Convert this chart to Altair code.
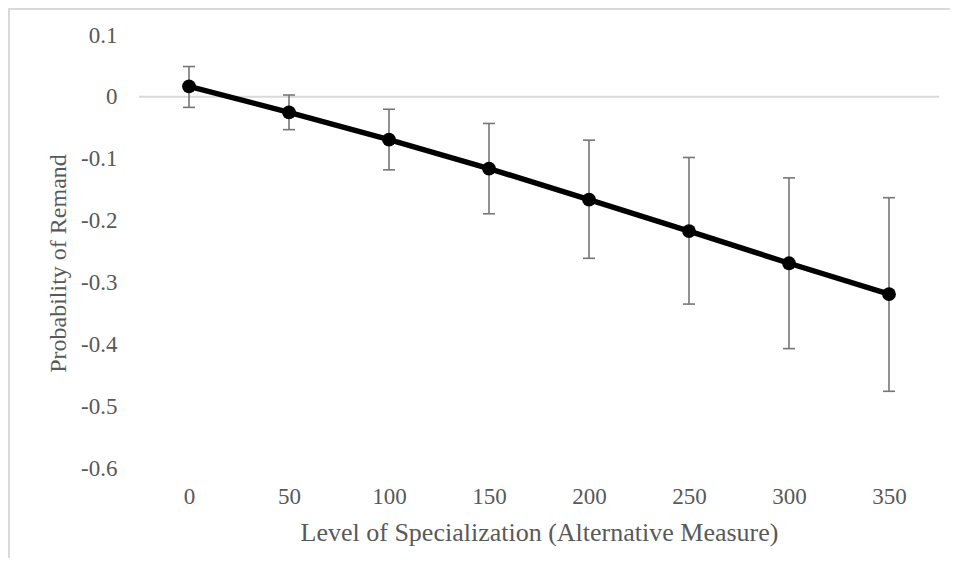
import altair as alt
import pandas as pd

# Data
levels = [0, 50, 100, 150, 200, 250, 300, 350]
prob = [0.017, -0.025, -0.069, -0.116, -0.166, -0.217, -0.269, -0.319]
upper = [0.049, 0.003, -0.020, -0.043, -0.070, -0.098, -0.131, -0.163]
lower = [-0.017, -0.053, -0.118, -0.189, -0.261, -0.335, -0.407, -0.476]
y_ticks = [0.1, 0, -0.1, -0.2, -0.3, -0.4, -0.5, -0.6]

df = pd.DataFrame({"level": levels, "prob": prob, "upper": upper, "lower": lower})

FONT = "Liberation Serif"
TXT = "#595959"
W, H = 800, 433

xscale = alt.Scale(domain=[-25, 375], nice=False, zero=False)
yscale = alt.Scale(domain=[-0.6, 0.1], nice=False, zero=False)

x_axis = alt.Axis(
    values=levels, grid=False, ticks=False, domain=False,
    labelPadding=28, labelBaseline="middle", labelFont=FONT, labelFontSize=23,
    labelColor=TXT, title="Level of Specialization (Alternative Measure)",
    titleFont=FONT, titleFontSize=26, titleFontWeight="normal", titleColor=TXT,
    titleY=64, titleBaseline="middle",
)
y_axis = alt.Axis(
    values=y_ticks, grid=False, ticks=False, domain=False,
    labelPadding=22, labelFont=FONT, labelFontSize=23, labelColor=TXT,
    labelExpr="datum.value == 0 ? '0' : replace(format(datum.value, '.1f'), '\u2212', '-')",
    title="Probability of Remand", titleFont=FONT, titleFontSize=24,
    titleFontWeight="normal", titleColor=TXT, titleX=-81, titleY=228,
    titleAngle=270, titleAlign="center", titleBaseline="middle",
)


def X():
    return alt.X("level:Q", scale=xscale, axis=x_axis)


def Y(field):
    return alt.Y(field, scale=yscale, axis=y_axis)


base = alt.Chart(df)

line = base.mark_line(color="black", strokeWidth=5.5).encode(x=X(), y=Y("prob:Q"))
err = base.mark_rule(color="#767676", strokeWidth=1.6).encode(
    x=X(), y=Y("lower:Q"), y2="upper:Q"
)
cap_top = base.mark_tick(orient="horizontal", size=12, thickness=1.6, color="#767676", opacity=1).encode(
    x=X(), y=Y("upper:Q")
)
cap_bot = base.mark_tick(orient="horizontal", size=12, thickness=1.6, color="#767676", opacity=1).encode(
    x=X(), y=Y("lower:Q")
)
pts = base.mark_circle(size=190, color="black", opacity=1).encode(x=X(), y=Y("prob:Q"))

one = alt.Data(values=[{"z": 0}])
zero_line = alt.Chart(one).mark_rule(color="#d9d9d9", strokeWidth=2).encode(y=Y("z:Q"))
border_left = alt.Chart(one).mark_rule(color="#d9d9d9", strokeWidth=2).encode(
    x=alt.value(-130), y=alt.value(-26), y2=alt.value(H + 90)
)
border_top = alt.Chart(one).mark_rule(color="#d9d9d9", strokeWidth=2).encode(
    x=alt.value(-131), x2=alt.value(W + 12), y=alt.value(-26)
)

chart = alt.layer(
    zero_line, line, err, cap_top, cap_bot, pts, border_left, border_top
).properties(
    width=W, height=H,
    autosize=alt.AutoSizeParams(type="none"),
    padding={"left": 131, "top": 27, "right": 11, "bottom": 90},
    background="white",
).configure_view(stroke=None)

chart.save("out.html", embed_options={"renderer": "svg", "actions": False})
